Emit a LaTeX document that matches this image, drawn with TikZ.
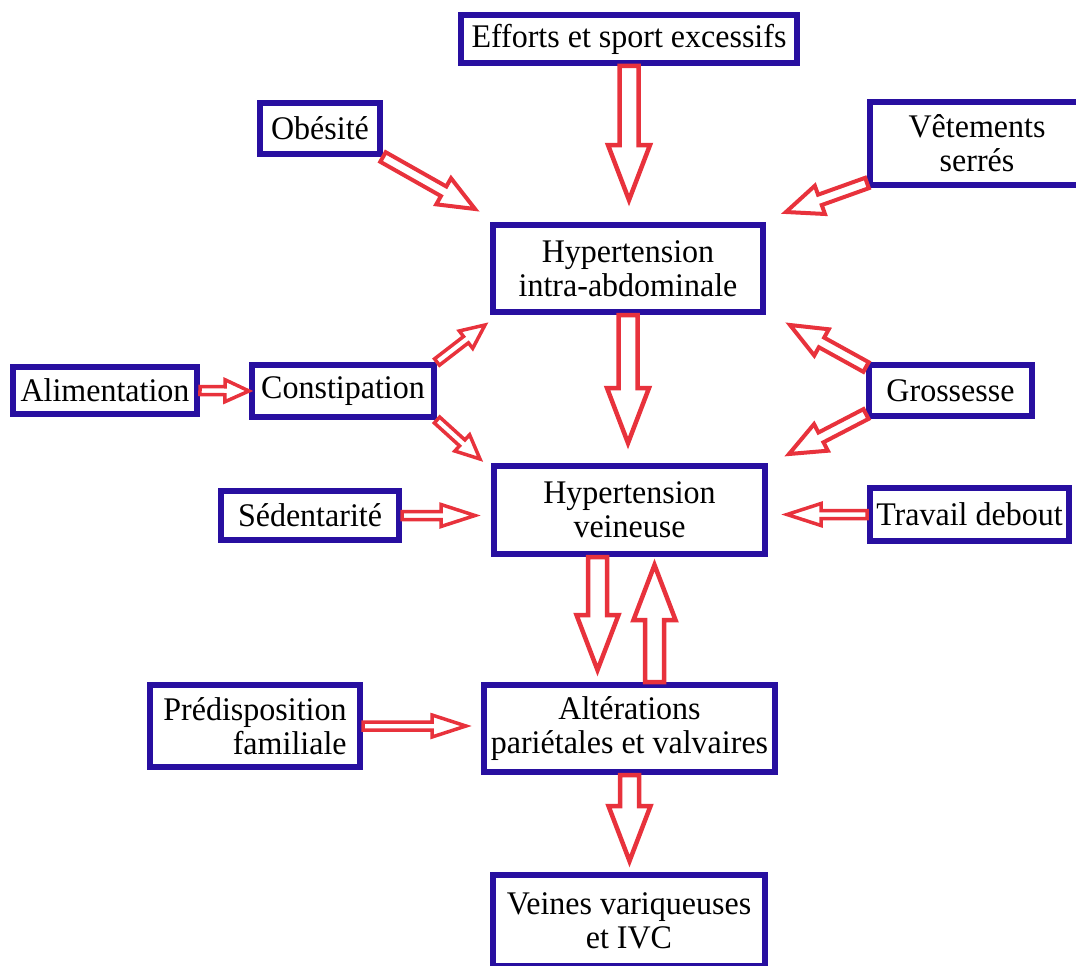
\documentclass[tikz,border=0pt]{standalone}
\usepackage{fontspec}
\setmainfont{Liberation Serif}[FakeStretch=0.97]
\usetikzlibrary{calc}
\definecolor{boxblue}{RGB}{40,15,160}
\definecolor{arrowred}{RGB}{232,50,60}
\tikzset{
  box/.style={draw=boxblue, line width=6pt, fill=white, align=center, inner sep=0pt,
    font=\fontsize{33}{34}\selectfont},
  hollow/.style={draw=arrowred, fill=white, line join=miter},
}
% hollow arrow: [outline] from, to, half shaft, half head, head length
\newcommand{\redarrow}[6][4.5pt]{%
  \draw[hollow, line width=#1] let \p1=(#2), \p2=(#3),
      \n1={atan2(\y2-\y1,\x2-\x1)}, \n2={veclen(\x2-\x1,\y2-\y1)} in
    ($(\p1)+(\n1+90:#4)$) -- ($(\p1)+(\n1:\n2-#6)+(\n1+90:#4)$)
    -- ($(\p1)+(\n1:\n2-#6)+(\n1+90:#5)$) -- (\p2)
    -- ($(\p1)+(\n1:\n2-#6)+(\n1-90:#5)$) -- ($(\p1)+(\n1:\n2-#6)+(\n1-90:#4)$)
    -- ($(\p1)+(\n1-90:#4)$) -- cycle;}
\begin{document}
\begin{tikzpicture}[x=1pt, y=-1pt]
  \useasboundingbox (0,0) rectangle (1076,966);

  \node[box, minimum width=336pt, minimum height=48pt] (efforts) at (629,39) {Efforts et sport excessifs};
  \node[box, minimum width=120pt, minimum height=51pt] (obesite) at (320,128.5) {Obésité};
  \node[box, minimum width=214pt, minimum height=83pt] (vetements) at (977,143.5) {Vêtements\\serrés};
  \node[box, minimum width=270pt, minimum height=87pt] (hia) at (628,268.5) {Hypertension\\intra-abdominale};
  \node[box, minimum width=184pt, minimum height=47pt] (alim) at (105,390.5) {Alimentation};
  \node[box, minimum width=182pt, minimum height=52pt] (const) at (343,391) {Constipation};
  \node[box, minimum width=163pt, minimum height=51pt] (gross) at (950.5,390.5) {Grossesse};
  \node[box, minimum width=178pt, minimum height=49pt] (sed) at (310,515.5) {Sédentarité};
  \node[box, minimum width=271pt, minimum height=88pt] (hv) at (629.5,510) {Hypertension\\veineuse};
  \node[box, minimum width=199pt, minimum height=53pt] (travail) at (969.5,514.5) {Travail debout};
  \node[box, minimum width=210pt, minimum height=82pt, align=right] (predis) at (255,726) {Prédisposition\\familiale};
  \node[box, minimum width=291pt, minimum height=87pt] (alt) at (629.5,728.5) {Altérations\\pariétales et valvaires};
  \node[box, minimum width=272pt, minimum height=91pt] (veines) at (629,920.5) {Veines variqueuses\\et IVC};

  \redarrow{efforts.south}{$(efforts.south |- hia.north)+(0,-22)$}{9.5pt}{21pt}{55pt}
  \redarrow[4pt]{obesite.south east}{$(hia.north west)+(-15,-13)$}{5.5pt}{15pt}{36pt}
  \redarrow[4pt]{$(vetements.south west)+(0,-5)$}{$(hia.north east)+(20,-10)$}{5.5pt}{15pt}{36pt}
  \redarrow{hia.south}{$(hia.south |- hv.north)+(0,-20)$}{9.5pt}{21pt}{55pt}
  \redarrow[3.5pt]{const.north east}{$(hia.south west)+(-5,10)$}{4pt}{11pt}{24pt}
  \redarrow[3.5pt]{const.south east}{$(hv.north west)+(-11,-4)$}{4pt}{11pt}{24pt}
  \redarrow[3.5pt]{alim.east}{const.west}{4pt}{11pt}{24pt}
  \redarrow[4pt]{$(gross.north west)+(0,5)$}{$(hia.south east)+(24,10)$}{5.5pt}{15pt}{36pt}
  \redarrow[4pt]{$(gross.south west)+(0,-5)$}{$(hv.north east)+(21,-9)$}{5.5pt}{15pt}{36pt}
  \redarrow[3.5pt]{sed.east}{$(sed.east -| hv.west)+(-16,0)$}{4pt}{11pt}{34pt}
  \redarrow[3.5pt]{travail.west}{$(travail.west -| hv.east)+(19,0)$}{4pt}{11pt}{34pt}
  \redarrow{$(hv.south)+(-32,0)$}{$(alt.north)+(-32,-12)$}{9.5pt}{21pt}{55pt}
  \redarrow{$(alt.north)+(25,0)$}{$(hv.south)+(25,8)$}{9.5pt}{21pt}{55pt}
  \redarrow[3.5pt]{predis.east}{$(predis.east -| alt.west)+(-15,0)$}{4pt}{11pt}{34pt}
  \redarrow{alt.south}{$(alt.south |- veines.north)+(0,-11)$}{9.5pt}{21pt}{55pt}
\end{tikzpicture}
\end{document}
